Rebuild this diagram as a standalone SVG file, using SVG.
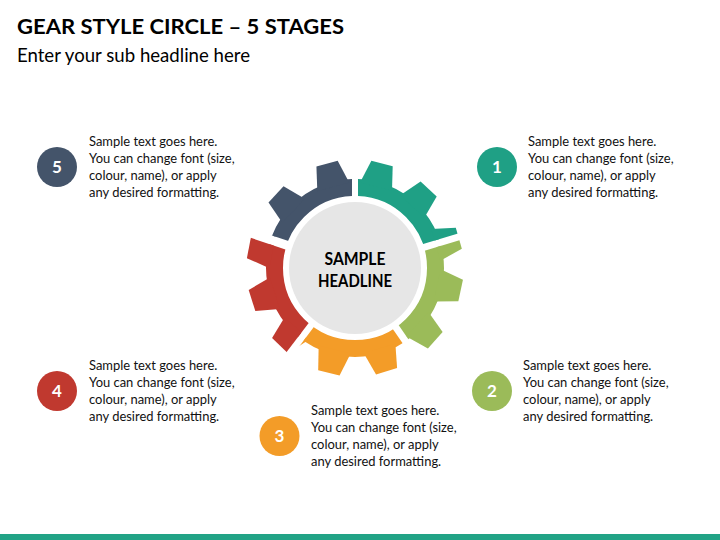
<svg xmlns="http://www.w3.org/2000/svg" xmlns:xlink="http://www.w3.org/1999/xlink" width="720" height="540" viewBox="0 0 720 540">
<style>
.t{font-family:Lato,"Open Sans","Liberation Sans",sans-serif;fill:#111}
.title{font-size:20px;font-weight:700;fill:#000}
.sub{font-size:18.7px;fill:#000}
.body{font-size:12.95px}
.num{font-size:17px;font-weight:700;fill:#fff;text-anchor:middle}
.head{font-size:16.5px;font-weight:700;text-anchor:middle;fill:#000}
</style>
<defs>
<polygon id="tooth" points="84,-16.5 108,-11 108,11 84,16.5"/>
<g id="gear">
<circle cx="355" cy="268" r="80.5" fill="none" stroke-width="17"/>
<g transform="translate(355 268)" stroke="none">
<use xlink:href="#tooth" transform="rotate(12)"/>
<use xlink:href="#tooth" transform="rotate(42)"/>
<use xlink:href="#tooth" transform="rotate(73)"/>
<use xlink:href="#tooth" transform="rotate(104)"/>
<use xlink:href="#tooth" transform="rotate(134)"/>
<use xlink:href="#tooth" transform="rotate(162.5)"/>
<use xlink:href="#tooth" transform="rotate(191)"/>
<use xlink:href="#tooth" transform="rotate(223)"/>
<use xlink:href="#tooth" transform="rotate(255)"/>
<use xlink:href="#tooth" transform="rotate(284.5)"/>
<use xlink:href="#tooth" transform="rotate(313)"/>
<use xlink:href="#tooth" transform="rotate(344)"/>
</g>
</g>
<clipPath id="c1"><polygon points="358,228 358,128 486.4,91.5 488.09,224.42 392.31,253.15"/></clipPath>
<clipPath id="c2"><polygon points="394.32,259.86 490.10,231.12 562.6,340.9 437.38,381.25 380.60,298.94"/></clipPath>
<clipPath id="c3"><polygon points="374.83,302.91 431.62,385.23 349.8,487.9 272.95,381.49 332.54,301.94"/></clipPath>
<clipPath id="c4"><polygon points="327.98,297.70 267.38,377.25 144.7,332.7 220.81,227.85 315.64,259.58"/></clipPath>
<clipPath id="c5"><polygon points="318.50,251.04 223.66,219.31 226.5,89.5 352,128 352,228"/></clipPath>
</defs>
<rect width="720" height="540" fill="#fff"/>
<g id="header">
<text class="t title" x="17" y="33.5" textLength="327" lengthAdjust="spacingAndGlyphs">GEAR STYLE CIRCLE – 5 STAGES</text>
<text class="t sub" x="17" y="61.5" textLength="233" lengthAdjust="spacingAndGlyphs">Enter your sub headline here</text>
</g>
<g id="center">
<circle cx="355" cy="268" r="66" fill="#e6e6e6"/>
<text class="t head" x="355" y="265.3" textLength="61" lengthAdjust="spacingAndGlyphs">SAMPLE</text>
<text class="t head" x="355" y="286.7" textLength="74" lengthAdjust="spacingAndGlyphs">HEADLINE</text>
</g>
<g id="stage1">
<use xlink:href="#gear" fill="#1fa085" stroke="#1fa085" clip-path="url(#c1)"/>
<circle cx="497" cy="167" r="20" fill="#1fa085"/>
<text class="t num" x="497" y="173">1</text>
<text class="t body"><tspan x="528" y="145.5">Sample text goes here.</tspan><tspan x="528" y="162.5">You can change font (size,</tspan><tspan x="528" y="179.5">colour, name), or apply</tspan><tspan x="528" y="196.5">any desired formatting.</tspan></text>
</g>
<g id="stage2">
<use xlink:href="#gear" fill="#9bbb59" stroke="#9bbb59" clip-path="url(#c2)"/>
<circle cx="492" cy="391" r="20" fill="#9bbb59"/>
<text class="t num" x="492" y="397">2</text>
<text class="t body"><tspan x="523" y="369.5">Sample text goes here.</tspan><tspan x="523" y="386.5">You can change font (size,</tspan><tspan x="523" y="403.5">colour, name), or apply</tspan><tspan x="523" y="420.5">any desired formatting.</tspan></text>
</g>
<g id="stage3">
<use xlink:href="#gear" fill="#f39c28" stroke="#f39c28" clip-path="url(#c3)"/>
<circle cx="279.5" cy="436" r="20" fill="#f39c28"/>
<text class="t num" x="279.5" y="442">3</text>
<text class="t body"><tspan x="311" y="414.5">Sample text goes here.</tspan><tspan x="311" y="431.5">You can change font (size,</tspan><tspan x="311" y="448.5">colour, name), or apply</tspan><tspan x="311" y="465.5">any desired formatting.</tspan></text>
</g>
<g id="stage4">
<use xlink:href="#gear" fill="#c0392f" stroke="#c0392f" clip-path="url(#c4)"/>
<circle cx="57" cy="391" r="20" fill="#c0392f"/>
<text class="t num" x="57" y="397">4</text>
<text class="t body"><tspan x="89" y="369.5">Sample text goes here.</tspan><tspan x="89" y="386.5">You can change font (size,</tspan><tspan x="89" y="403.5">colour, name), or apply</tspan><tspan x="89" y="420.5">any desired formatting.</tspan></text>
</g>
<g id="stage5">
<use xlink:href="#gear" fill="#44546a" stroke="#44546a" clip-path="url(#c5)"/>
<circle cx="57" cy="167" r="20" fill="#44546a"/>
<text class="t num" x="57" y="173">5</text>
<text class="t body"><tspan x="89" y="145.5">Sample text goes here.</tspan><tspan x="89" y="162.5">You can change font (size,</tspan><tspan x="89" y="179.5">colour, name), or apply</tspan><tspan x="89" y="196.5">any desired formatting.</tspan></text>
</g>
<g id="connectors"></g>
<rect id="footer-bar" x="0" y="534" width="720" height="6" fill="#21a386"/>
</svg>
